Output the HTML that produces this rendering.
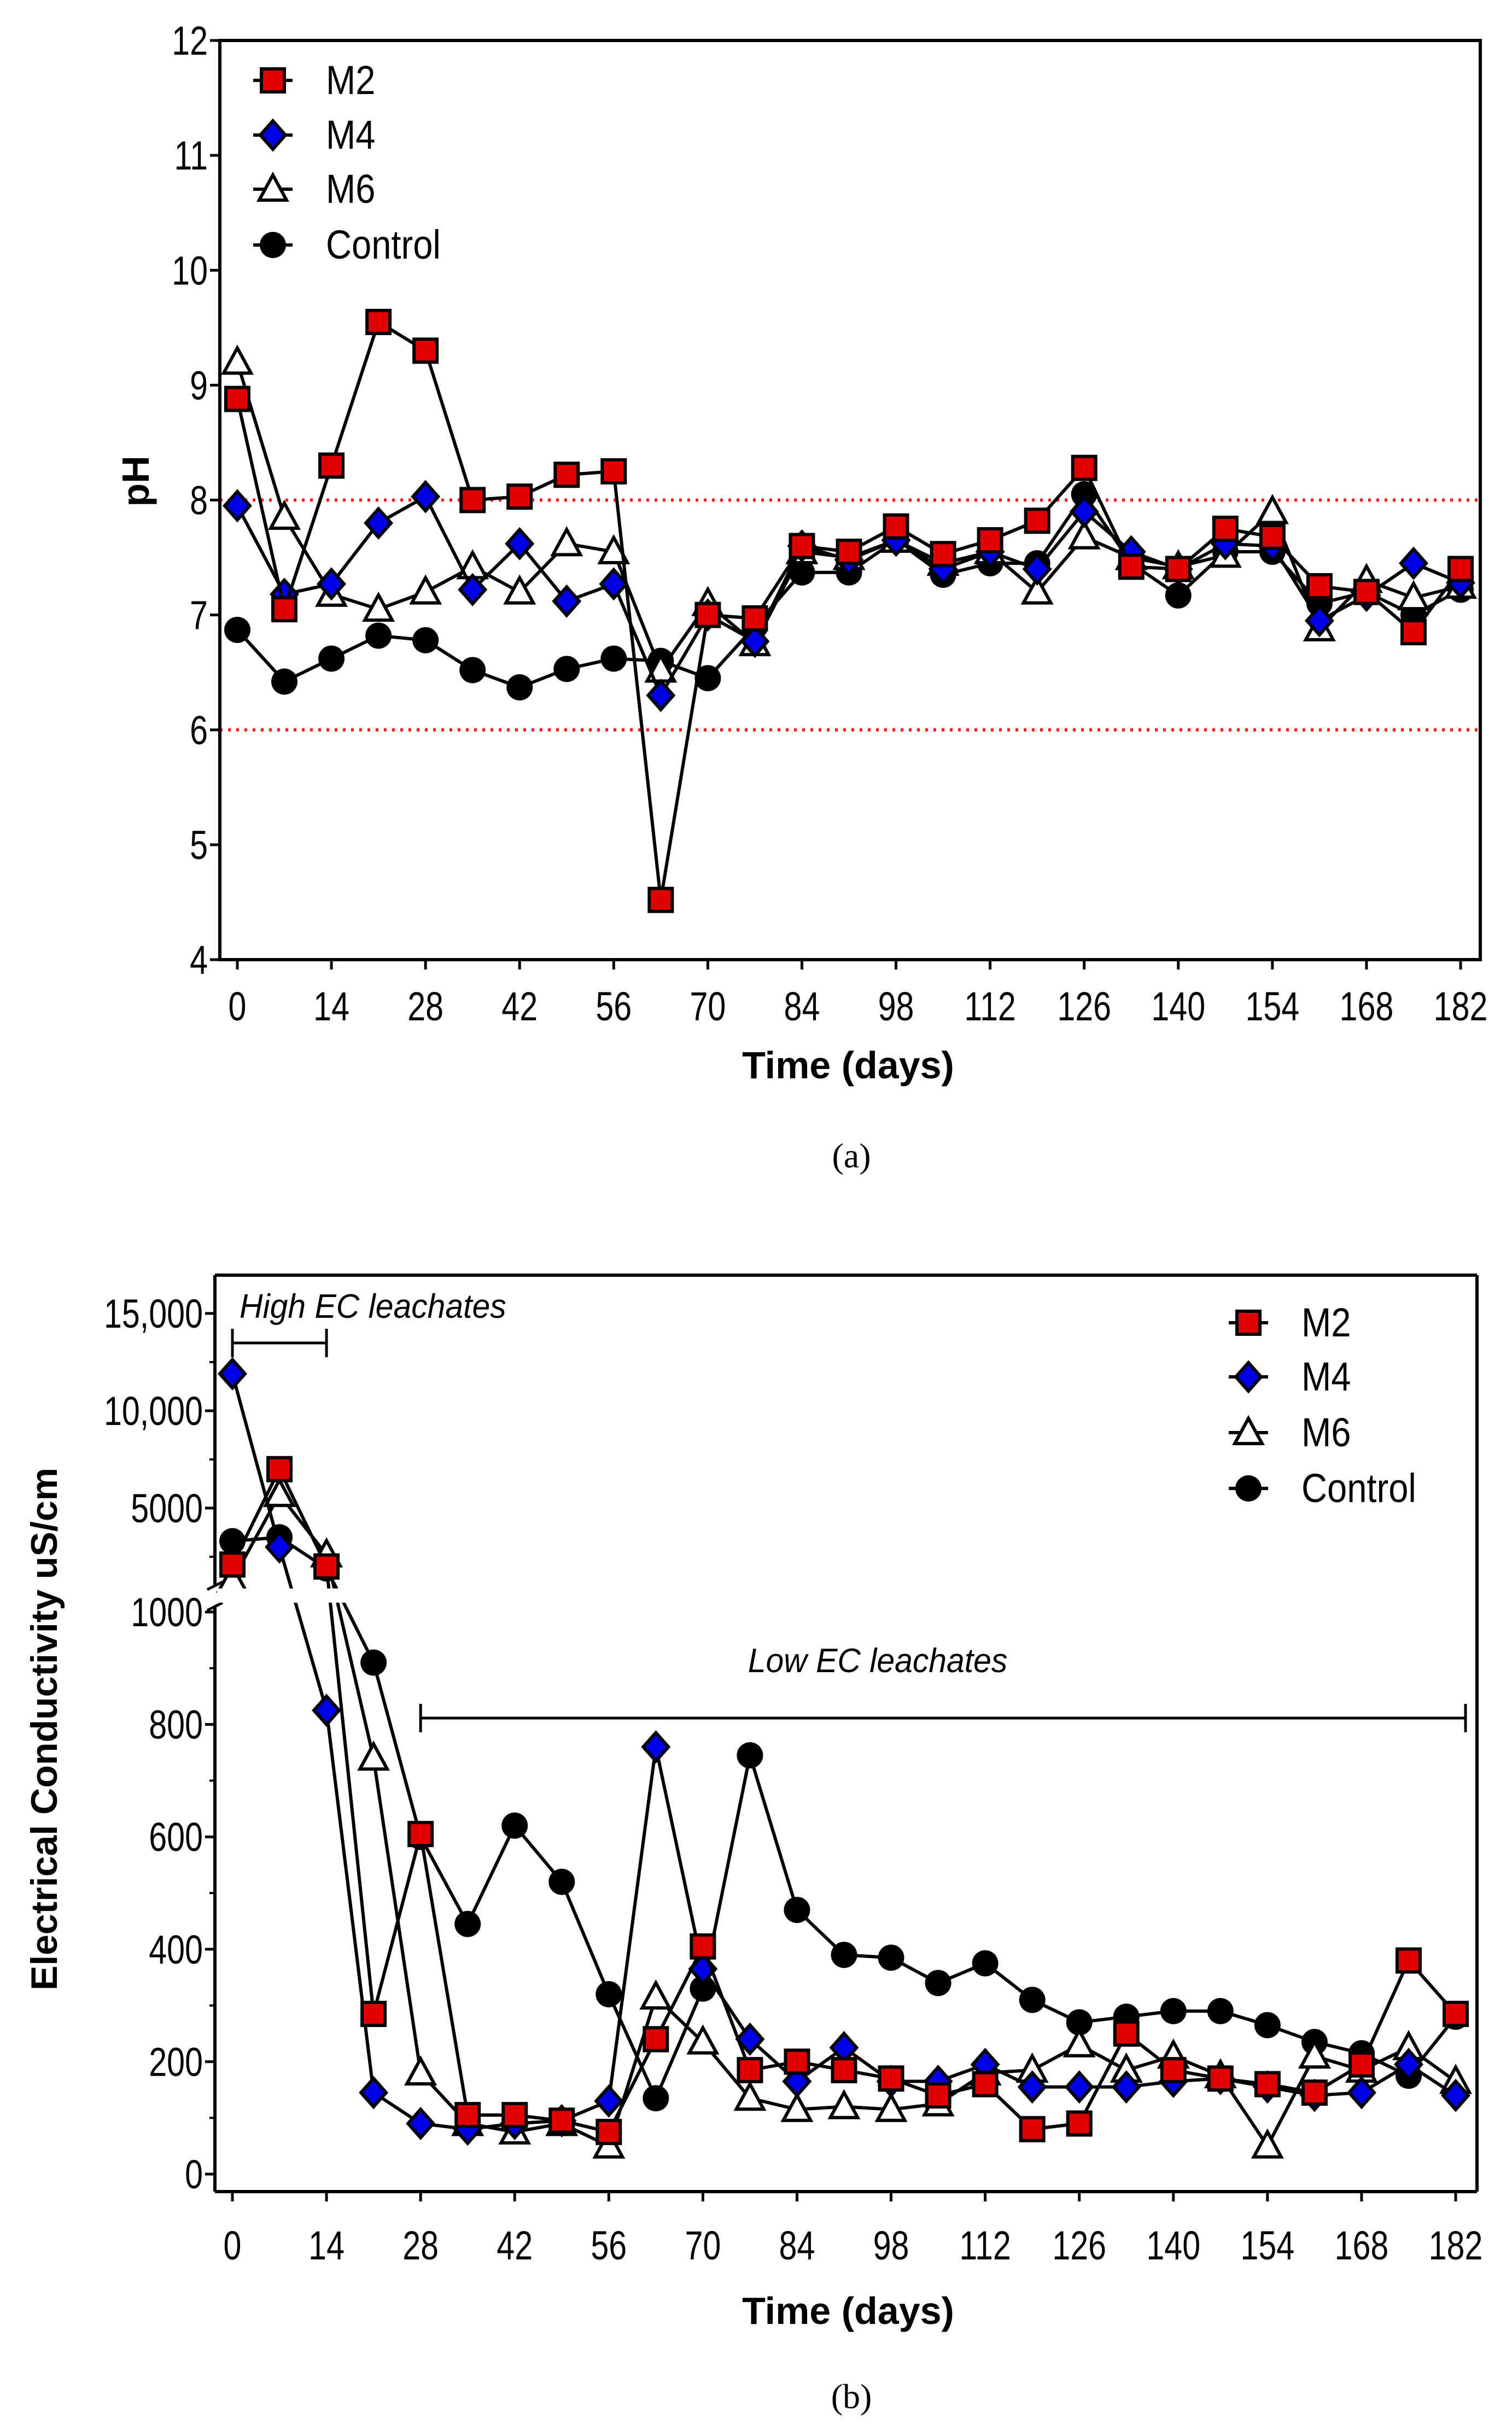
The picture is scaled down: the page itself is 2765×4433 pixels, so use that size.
<!DOCTYPE html>
<html><head><meta charset="utf-8"><style>
html,body{margin:0;padding:0;background:#fff}
svg{display:block}
</style></head><body>
<svg id="chart" xmlns="http://www.w3.org/2000/svg" width="2765" height="4433" viewBox="0 0 2765 4433">
</svg>
<script>
const days = [0,7,14,21,28,35,42,49,56,63,70,77,84,91,98,105,112,119,126,133,140,147,154,161,168,175,182];
const xTicks = [0,14,28,42,56,70,84,98,112,126,140,154,168,182];
const phTicks = [4,5,6,7,8,9,10,11,12];
const phM2 = [8.88,7.05,8.3,9.55,9.3,8.0,8.03,8.22,8.25,4.52,7.0,6.97,7.6,7.55,7.77,7.53,7.65,7.82,8.28,7.42,7.4,7.75,7.68,7.25,7.2,6.85,7.4];
const phM4 = [7.95,7.18,7.27,7.8,8.03,7.22,7.62,7.12,7.27,6.3,7.0,6.77,7.6,7.48,7.65,7.4,7.55,7.4,7.9,7.55,7.4,7.62,7.6,6.95,7.17,7.45,7.28];
const phM6 = [9.2,7.85,7.18,7.05,7.2,7.42,7.2,7.62,7.55,6.52,7.1,6.75,7.55,7.5,7.65,7.45,7.55,7.2,7.68,7.5,7.42,7.52,7.9,6.88,7.3,7.15,7.25];
const phCtrl = [6.87,6.42,6.62,6.82,6.78,6.52,6.37,6.53,6.62,6.6,6.45,6.9,7.37,7.37,7.65,7.35,7.45,7.45,8.05,7.45,7.17,7.55,7.55,7.1,7.2,7.0,7.22];
const phLimits = [6,8];
const ecM2 = [2100,7000,2000,285,605,105,105,95,75,240,405,185,200,185,170,140,160,80,90,250,185,170,160,145,195,380,285];
const ecM4 = [11900,3000,825,145,90,80,90,95,130,760,365,240,165,225,165,165,195,155,155,155,165,170,155,140,145,195,140];
const ecM6 = [1300,5700,2600,740,180,90,75,90,50,315,235,135,115,120,115,125,180,185,230,185,210,175,50,210,185,225,165];
const ecCtrl = [3300,3500,1900,910,600,445,620,520,320,135,330,745,470,390,385,340,375,310,270,280,290,290,265,235,215,175,280];
const ecLowTicks = [0,200,400,600,800,1000];
const ecHighTicks = [5000,10000,15000];
const ecHighLabels = ["5000","10,000","15,000"];

const NS="http://www.w3.org/2000/svg";
const svg=document.getElementById('chart');
const SANS='font-family:"Liberation Sans",sans-serif;';
function el(tag,attrs,parent){const e=document.createElementNS(NS,tag);for(const k in attrs)e.setAttribute(k,attrs[k]);(parent||svg).appendChild(e);return e;}
function txt(s,attrs,parent){const e=el('text',attrs,parent);e.textContent=s;return e;}
function tick(s,x,y,anchor,parent){
  return txt(s,{transform:`translate(${x},${y}) scale(0.8,1)`,'text-anchor':anchor,style:SANS+'font-size:74px'},parent);
}

function marker(g,type,x,y){
  let m;
  if(type==='sq') m=el('rect',{x:x-21,y:y-21,width:42,height:42,fill:'#e00000',stroke:'#000','stroke-width':6},g);
  else if(type==='di') m=el('polygon',{points:`${x},${y-26} ${x+23},${y} ${x},${y+26} ${x-23},${y}`,fill:'#0000e6',stroke:'#000','stroke-width':6},g);
  else if(type==='tr') m=el('polygon',{points:`${x},${y-26} ${x+25},${y+20} ${x-25},${y+20}`,fill:'#fff',stroke:'#000','stroke-width':6},g);
  else m=el('circle',{cx:x,cy:y,r:24,fill:'#000'},g);
  return m;
}

/* ============ Chart A (pH) ============ */
const A={L:402,R:2707,T:74,B:1755,x0:434,x182:2671};
const ax=d=>A.x0+(d/182)*(A.x182-A.x0);
const ay=v=>A.B-(v-4)/8*(A.B-A.T);
const gA=el('g',{});


phLimits.forEach(v=>{
  const l=el('line',{x1:A.L,x2:A.R,y1:ay(v),y2:ay(v),stroke:'#ff2020','stroke-width':6,'stroke-dasharray':'5 10'},gA);
  
  
});
el('rect',{x:A.L,y:A.T,width:A.R-A.L,height:A.B-A.T,fill:'none',stroke:'#000','stroke-width':6},gA);
phTicks.forEach(v=>{
  el('line',{x1:A.L-18,x2:A.L,y1:ay(v),y2:ay(v),stroke:'#000','stroke-width':5},gA);
  const t=tick(String(v),A.L-22,ay(v)+26,'end',gA);
  
  
});
xTicks.forEach(d=>{
  el('line',{x1:ax(d),x2:ax(d),y1:A.B,y2:A.B+18,stroke:'#000','stroke-width':5},gA);
  const t=tick(String(d),ax(d),1866,'middle',gA);
  
  
});
const phT=txt('pH',{transform:'translate(272,880) rotate(-90)','text-anchor':'middle',style:SANS+'font-size:70px;font-weight:bold'},gA);


const xaT=txt('Time (days)',{x:1551,y:1972,'text-anchor':'middle',style:SANS+'font-size:70px;font-weight:bold'},gA);


const capA=txt('(a)',{x:1557,y:2135,'text-anchor':'middle',style:'font-family:"Liberation Serif",serif;font-size:64px'});



function series(g,vals,type,xf,yf,name){
  const s=el('g',{},g);
  
  
  const pts=vals.map((v,i)=>xf(days[i])+','+yf(v)).join(' ');
  el('polyline',{points:pts,fill:'none',stroke:'#000','stroke-width':6},s);
  return s;
}
function markers(s,vals,type,xf,yf){
  vals.forEach((v,i)=>{const m=marker(s,type,xf(days[i]),yf(v));
    
    });
}
const phSets=[[phCtrl,'ci','series-control'],[phM6,'tr','series-m6'],[phM4,'di','series-m4'],[phM2,'sq','series-m2']];
const phG=phSets.map(s=>series(gA,s[0],s[1],ax,ay,s[2]));
phSets.forEach((s,i)=>markers(phG[i],s[0],s[1],ax,ay));

function legend(g,x,ys){
  const items=[['sq','M2'],['di','M4'],['tr','M6'],['ci','Control']];
  items.forEach((it,i)=>{
    const lg=el('g',{},g);
    
    
    el('line',{x1:x-36,x2:x+36,y1:ys[i],y2:ys[i],stroke:'#000','stroke-width':6},lg);
    marker(lg,it[0],x,ys[i]);
    txt(it[1],{transform:`translate(${x+97},${ys[i]+25}) scale(0.88,1)`,style:SANS+'font-size:74px'},lg);
  });
}
legend(gA,499,[147,247,346,448]);

/* ============ Chart B (EC) ============ */
const B={L:393,R:2701,T:2332,B:4008,x0:425,x182:2662};
const bx=d=>B.x0+(d/182)*(B.x182-B.x0);
const lowY0=3976, lowY1000=2948, hiY5000=2758, hiY10000=2580;
const byLow=v=>lowY0-(v/1000)*(lowY0-lowY1000);
const byHigh=v=>hiY5000-(v-5000)/5000*(hiY5000-hiY10000);
const by=v=> v<1000 ? byLow(v) : byHigh(v);
const gB=el('g',{});


el('line',{x1:B.L,x2:B.R,y1:B.T,y2:B.T,stroke:'#000','stroke-width':6},gB);
el('line',{x1:B.R,x2:B.R,y1:B.T,y2:B.B,stroke:'#000','stroke-width':6},gB);
el('line',{x1:B.L,x2:B.R,y1:B.B,y2:B.B,stroke:'#000','stroke-width':6},gB);
el('line',{x1:B.L,x2:B.L,y1:B.T,y2:2900,stroke:'#000','stroke-width':6},gB);
el('line',{x1:B.L,x2:B.L,y1:2938,y2:B.B,stroke:'#000','stroke-width':6},gB);
el('line',{x1:B.L-14,x2:B.L+14,y1:2907,y2:2893,stroke:'#000','stroke-width':5},gB);
el('line',{x1:B.L-14,x2:B.L+14,y1:2945,y2:2931,stroke:'#000','stroke-width':5},gB);
ecLowTicks.forEach(v=>{
  el('line',{x1:B.L-18,x2:B.L,y1:byLow(v),y2:byLow(v),stroke:'#000','stroke-width':5},gB);
  const t=tick(String(v),B.L-22,byLow(v)+26,'end',gB);
  
  
});
for(let v=100;v<1000;v+=200) el('line',{x1:B.L-10,x2:B.L,y1:byLow(v),y2:byLow(v),stroke:'#000','stroke-width':4},gB);
ecHighTicks.forEach((v,i)=>{
  el('line',{x1:B.L-18,x2:B.L,y1:byHigh(v),y2:byHigh(v),stroke:'#000','stroke-width':5},gB);
  const t=tick(ecHighLabels[i],B.L-22,byHigh(v)+26,'end',gB);
  
  
});
[2500,7500,12500].forEach(v=>el('line',{x1:B.L-10,x2:B.L,y1:byHigh(v),y2:byHigh(v),stroke:'#000','stroke-width':4},gB));
xTicks.forEach(d=>{
  el('line',{x1:bx(d),x2:bx(d),y1:B.B,y2:B.B+18,stroke:'#000','stroke-width':5},gB);
  const t=tick(String(d),bx(d),4132,'middle',gB);
  
  
});
const ecT=txt('Electrical Conductivity uS/cm',{transform:'translate(104,3162) rotate(-90)','text-anchor':'middle',style:SANS+'font-size:68px;font-weight:bold'},gB);


const xbT=txt('Time (days)',{x:1551,y:4250,'text-anchor':'middle',style:SANS+'font-size:70px;font-weight:bold'},gB);


const capB=txt('(b)',{x:1557,y:4404,'text-anchor':'middle',style:'font-family:"Liberation Serif",serif;font-size:64px'});



const ecSets=[[ecCtrl,'ci','series-control'],[ecM6,'tr','series-m6'],[ecM4,'di','series-m4'],[ecM2,'sq','series-m2']];
const ecG=ecSets.map(s=>series(gB,s[0],s[1],bx,by,s[2]));
el('rect',{x:B.L+4,y:2905,width:B.R-B.L-8,height:26,fill:'#fff'},gB);
ecSets.forEach((s,i)=>markers(ecG[i],s[0],s[1],bx,by));

const hb=el('g',{},gB);


el('line',{x1:bx(0),x2:bx(14),y1:2456,y2:2456,stroke:'#000','stroke-width':5},hb);
el('line',{x1:bx(0),x2:bx(0),y1:2430,y2:2482,stroke:'#000','stroke-width':5},hb);
el('line',{x1:bx(14),x2:bx(14),y1:2430,y2:2482,stroke:'#000','stroke-width':5},hb);
txt('High EC leachates',{transform:'translate(438,2410) scale(0.95,1)',style:SANS+'font-size:62px;font-style:italic'},hb);
const lb=el('g',{},gB);


el('line',{x1:bx(28),x2:2680,y1:3142,y2:3142,stroke:'#000','stroke-width':5},lb);
el('line',{x1:bx(28),x2:bx(28),y1:3116,y2:3168,stroke:'#000','stroke-width':5},lb);
el('line',{x1:2680,x2:2680,y1:3116,y2:3168,stroke:'#000','stroke-width':5},lb);
txt('Low EC leachates',{transform:'translate(1605,3058) scale(0.95,1)','text-anchor':'middle',style:SANS+'font-size:62px;font-style:italic'},lb);

legend(gB,2283,[2419,2518,2620,2722]);
</script>
</body></html>
